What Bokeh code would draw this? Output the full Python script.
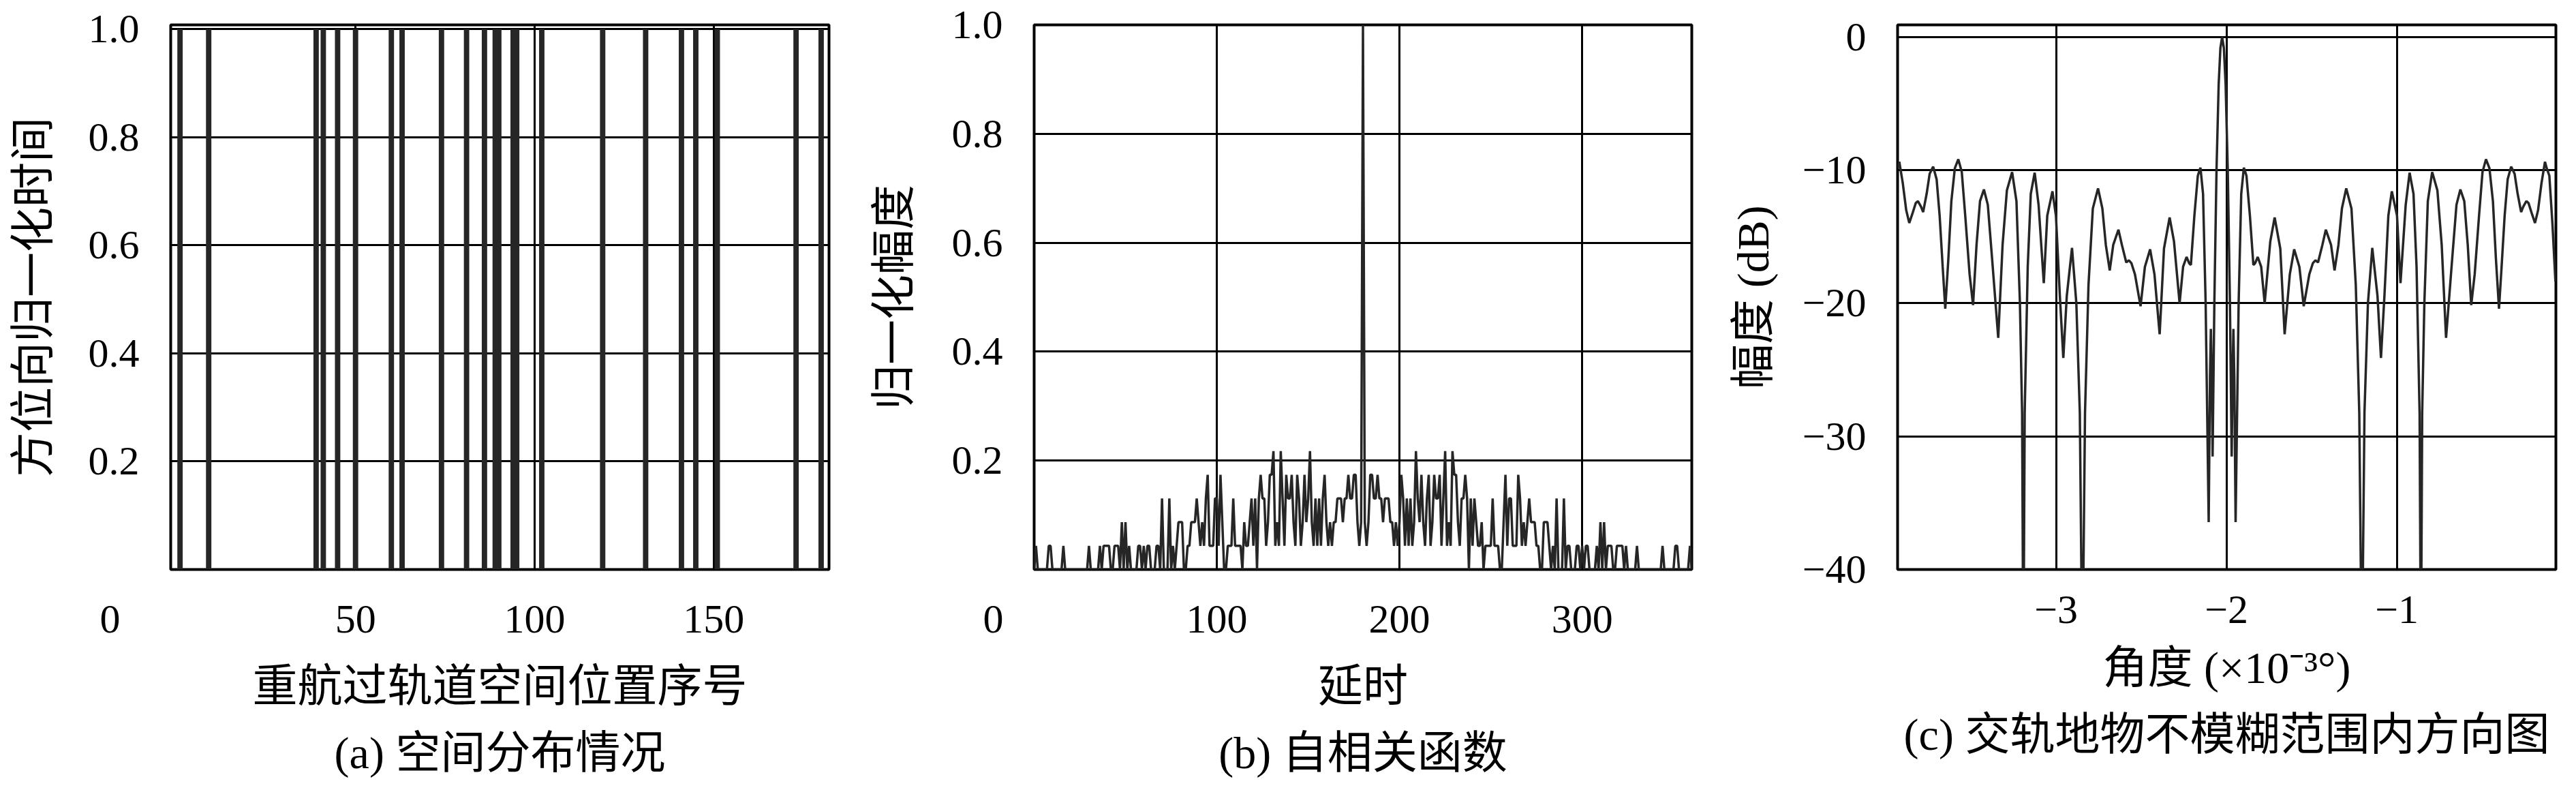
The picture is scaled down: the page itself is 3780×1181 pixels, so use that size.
from bokeh.plotting import figure
from bokeh.layouts import row
from bokeh.models import FixedTicker, Range1d, PrintfTickFormatter
from bokeh.embed import file_html
from bokeh.resources import INLINE

# ---------------- data ----------------
# (a) positions of the repeat-pass tracks (index) and their normalized azimuth time marks
track_index = [1, 9, 39, 41, 45, 50, 60, 63, 74, 81, 86, 89, 90, 94, 95,
               102, 119, 131, 141, 145, 151, 173, 180]
track_mark = [1, 1, 1, 1, 1, 1, 1, 1, 1, 1, 1, 1, 1, 1, 1,
              1, 1, 1, 1, 1, 1, 1, 1]

# (b) autocorrelation (coincidence counts out of 23 tracks), delay 0..360
acf_counts = [
    0, 1, 0, 0, 0, 0, 0, 0, 1, 1,
    0, 0, 0, 0, 0, 0, 1, 0, 0, 0,
    0, 0, 0, 0, 0, 0, 0, 0, 0, 0,
    1, 0, 0, 0, 0, 0, 1, 0, 1, 1,
    1, 1, 0, 0, 1, 1, 1, 0, 2, 0,
    2, 0, 1, 0, 0, 0, 0, 1, 1, 0,
    1, 0, 1, 1, 0, 0, 0, 1, 1, 0,
    3, 0, 0, 0, 3, 0, 1, 0, 1, 2,
    2, 2, 0, 0, 1, 1, 2, 2, 2, 3,
    2, 1, 2, 1, 3, 4, 1, 1, 1, 3,
    3, 1, 4, 2, 0, 0, 1, 1, 1, 3,
    1, 1, 1, 1, 0, 2, 1, 1, 2, 3,
    1, 3, 0, 3, 4, 3, 3, 1, 2, 4,
    4, 5, 1, 2, 1, 5, 3, 1, 4, 3,
    3, 4, 2, 1, 4, 3, 1, 2, 4, 2,
    3, 5, 2, 1, 3, 1, 3, 1, 3, 4,
    2, 1, 2, 1, 2, 2, 3, 3, 3, 2,
    3, 3, 4, 3, 3, 4, 4, 2, 1, 2,
    23,
    2, 1, 2, 4, 4, 3, 3, 4, 3, 3,
    2, 3, 3, 3, 2, 2, 1, 2, 1, 2,
    4, 3, 1, 3, 1, 3, 1, 2, 5, 3,
    2, 4, 2, 1, 3, 4, 1, 2, 4, 3,
    3, 4, 1, 3, 5, 1, 2, 1, 5, 4,
    4, 2, 1, 3, 3, 4, 3, 0, 3, 1,
    3, 2, 1, 1, 2, 0, 1, 1, 1, 1,
    3, 1, 1, 1, 0, 0, 2, 4, 1, 3,
    3, 1, 1, 1, 4, 3, 1, 2, 1, 2,
    3, 2, 2, 2, 1, 1, 0, 0, 2, 2,
    2, 1, 0, 1, 0, 3, 0, 0, 0, 3,
    0, 1, 1, 0, 0, 0, 1, 1, 0, 1,
    0, 1, 1, 0, 0, 0, 0, 1, 0, 2,
    0, 2, 0, 1, 1, 1, 0, 0, 1, 1,
    1, 1, 0, 1, 0, 0, 0, 0, 0, 1,
    0, 0, 0, 0, 0, 0, 0, 0, 0, 0,
    0, 0, 0, 1, 0, 0, 0, 0, 0, 0,
    1, 1, 0, 0, 0, 0, 0, 0, 1, 0,
]
acf_norm = 23
acf_delay = list(range(len(acf_counts)))
acf_value = [c / acf_norm for c in acf_counts]

# (c) cross-track pattern (angle in 1e-3 deg, amplitude in dB)
pat_angle = [
    -3.9312, -3.9210, -3.9006, -3.8803, -3.8624, -3.8446, -3.8242, -3.8115, -3.7936,
    -3.7809, -3.7605, -3.7427, -3.7223, -3.7019, -3.6841, -3.6662, -3.6510, -3.6331,
    -3.6153, -3.5949, -3.5745, -3.5541, -3.5338, -3.5083, -3.4879, -3.4675, -3.4471,
    -3.4242, -3.4013, -3.3758, -3.3401, -3.3146, -3.2892, -3.2586, -3.2331, -3.2127,
    -3.2000, -3.1924, -3.1847, -3.1669, -3.1490, -3.1261, -3.1032, -3.0726, -3.0522,
    -3.0217, -3.0013, -2.9783, -2.9580, -2.9376, -2.9070, -2.8815, -2.8611, -2.8459,
    -2.8306, -2.8102, -2.7847, -2.7541, -2.7287, -2.7083, -2.6854, -2.6650, -2.6344,
    -2.6140, -2.5885, -2.5732, -2.5580, -2.5376, -2.5045, -2.4790, -2.4484, -2.4229,
    -2.3924, -2.3669, -2.3338, -2.3083, -2.2752, -2.2548, -2.2344, -2.2191, -2.2089,
    -2.1885, -2.1682, -2.1529, -2.1376, -2.1223, -2.1045, -2.0968, -2.0917, -2.0866,
    -2.0815, -2.0713, -2.0586, -2.0459, -2.0357, -2.0255,
    -2.0153, -2.0051, -1.9924, -1.9797, -1.9695, -1.9644, -1.9593, -1.9542, -1.9465,
    -1.9287, -1.9134, -1.8981, -1.8828, -1.8625, -1.8421, -1.8319, -1.8166, -1.7962,
    -1.7758, -1.7427, -1.7172, -1.6841, -1.6586, -1.6281, -1.6026, -1.5720, -1.5465,
    -1.5134, -1.4930, -1.4778, -1.4625, -1.4370, -1.4166, -1.3860, -1.3656, -1.3427,
    -1.3223, -1.2969, -1.2663, -1.2408, -1.2204, -1.2051, -1.1899, -1.1695, -1.1440,
    -1.1134, -1.0930, -1.0727, -1.0497, -1.0293, -0.9988, -0.9784, -0.9478, -0.9249,
    -0.9020, -0.8841, -0.8663, -0.8586, -0.8510, -0.8383, -0.8179, -0.7924, -0.7618,
    -0.7364, -0.7109, -0.6752, -0.6497, -0.6268, -0.6039, -0.5835, -0.5631, -0.5427,
    -0.5172, -0.4969, -0.4765, -0.4561, -0.4357, -0.4179, -0.4000, -0.3848, -0.3669,
    -0.3491, -0.3287, -0.3083, -0.2905, -0.2701, -0.2574, -0.2395, -0.2268, -0.2064,
    -0.1886, -0.1707, -0.1504, -0.1300, -0.1198, -0.1045, -0.0866, -0.0688,
]
pat_db = [
    -9.86, -9.37, -10.96, -13.01, -13.97, -13.29, -12.47, -12.33, -12.74,
    -13.15, -11.78, -10.27, -9.73, -10.68, -13.42, -17.26, -20.41, -16.71,
    -12.33, -9.86, -9.18, -10.14, -13.42, -17.81, -20.14, -15.62, -12.33,
    -11.45, -12.60, -16.71, -22.60, -15.62, -11.51, -10.14, -12.33, -20.00,
    -28.22, -48.00, -28.22, -17.26, -11.78, -10.19, -12.60, -18.49, -13.42,
    -11.59, -13.42, -19.45, -24.11, -19.45, -15.84, -20.00, -28.22, -48.00,
    -28.22, -18.63, -12.88, -11.37, -12.88, -15.62, -17.53, -15.62, -14.47,
    -15.62, -16.93, -16.77, -16.99, -17.81, -20.22, -17.26, -15.95, -17.81,
    -22.33, -15.89, -13.56, -15.34, -20.00, -17.26, -16.52, -16.99, -17.12,
    -13.42, -10.41, -9.81, -11.78, -20.00, -36.44, -25.48, -21.92, -25.48,
    -31.51, -20.00, -10.03, -3.56, -0.82, 0.00,
    -0.82, -3.56, -10.03, -20.00, -31.51, -25.48, -21.92, -25.48, -36.44,
    -20.00, -11.78, -9.81, -10.41, -13.42, -17.12, -16.99, -16.52, -17.26,
    -20.00, -15.34, -13.56, -15.89, -22.33, -17.81, -15.95, -17.26, -20.22,
    -17.81, -16.99, -16.77, -16.93, -15.62, -14.47, -15.62, -17.53, -15.62,
    -12.88, -11.37, -12.88, -18.63, -28.22, -48.00, -28.22, -20.00, -15.84,
    -19.45, -24.11, -19.45, -13.42, -11.59, -13.42, -18.49, -12.60, -10.19,
    -11.78, -17.26, -28.22, -48.00, -28.22, -20.00, -12.33, -10.14, -11.51,
    -15.62, -22.60, -16.71, -12.60, -11.45, -12.33, -15.62, -20.14, -17.81,
    -13.42, -10.14, -9.18, -9.86, -12.33, -16.71, -20.41, -17.26, -13.42,
    -10.68, -9.73, -10.27, -11.78, -13.15, -12.74, -12.33, -12.47, -13.29,
    -13.97, -13.01, -10.96, -9.37, -9.86, -10.41, -13.97, -18.36,
]

# tick values / labels
a_xticks = [0, 50, 100, 150]
a_grid_x = [50, 100, 150]
a_yticks = [0.2, 0.4, 0.6, 0.8, 1.0]
b_xticks = [0, 100, 200, 300]
b_grid_x = [100, 200, 300]
b_yticks = [0.2, 0.4, 0.6, 0.8, 1.0]
c_xticks = [-3, -2, -1]
c_yticks = [0, -10, -20, -30, -40]
NBSP = "\u00a0"
a_xlabels = {0: "0" + NBSP * 13}
b_xlabels = {0: "0" + NBSP * 8}
c_xlabels = {-3: "−3", -2: "−2", -1: "−1"}
c_ylabels = {0: "0", -10: "−10", -20: "−20", -30: "−30", -40: "−40"}
captions = ["(a) 空间分布情况", "(b) 自相关函数", "(c) 交轨地物不模糊范围内方向图"]

# ---------------- style ----------------
NUM_FONT = "Liberation Serif"
CJK_FONT = "Liberation Serif, Noto Sans CJK SC"
NUM_SIZE = "60px"
CJK_SIZE = "66px"
INK = "#262626"
H = 1165
TOP = 36
FRAME_H = 799


def make_fig(width, bl, br, xr, yr, xlab, ylab, xt, gx, yt, ystand, cap):
    p = figure(width=width, height=H, x_range=xr, y_range=yr,
               output_backend="svg", toolbar_location=None,
               min_border_left=bl, min_border_right=br,
               min_border_top=TOP, min_border_bottom=H - TOP - FRAME_H,
               title=cap, title_location="below")
    p.outline_line_color = "black"
    p.outline_line_width = 4
    p.background_fill_color = "white"
    p.border_fill_color = "white"
    for ax in (p.xaxis[0], p.yaxis[0]):
        ax.axis_line_color = None
        ax.major_tick_line_color = None
        ax.minor_tick_line_color = None
        ax.major_tick_out = 0
        ax.major_tick_in = 0
        ax.major_label_text_font = NUM_FONT
        ax.major_label_text_font_size = NUM_SIZE
        ax.major_label_text_color = "black"
        ax.axis_label_text_font = CJK_FONT
        ax.axis_label_text_font_size = CJK_SIZE
        ax.axis_label_text_font_style = "normal"
        ax.axis_label_text_color = "black"
    p.xaxis.ticker = FixedTicker(ticks=xt)
    p.yaxis.ticker = FixedTicker(ticks=yt)
    p.xaxis.axis_label = xlab
    p.yaxis.axis_label = ylab
    p.xaxis.major_label_standoff = 39
    p.xaxis.axis_label_standoff = 26
    p.yaxis.major_label_standoff = 46
    p.yaxis.axis_label_standoff = ystand
    p.xgrid.ticker = FixedTicker(ticks=gx)
    p.ygrid.ticker = FixedTicker(ticks=yt)
    for g in (p.xgrid[0], p.ygrid[0]):
        g.grid_line_color = "black"
        g.grid_line_width = 3
    p.title.text_font = CJK_FONT
    p.title.text_font_size = CJK_SIZE
    p.title.text_font_style = "normal"
    p.title.text_color = "black"
    p.title.align = "center"
    p.title.standoff = 40
    return p


# (a)
pa = make_fig(1252, 250, 36, Range1d(-1.6, 182.2), Range1d(0, 1.008),
              "重航过轨道空间位置序号", "方位向归一化时间",
              a_xticks, a_grid_x, a_yticks, 42, captions[0])
pa.xaxis.major_label_overrides = a_xlabels
pa.yaxis.formatter = PrintfTickFormatter(format="%.1f")
pa.vbar(x=track_index, top=track_mark, bottom=0, width=1.5,
        fill_color=INK, line_color=None)

# (b)
pb = make_fig(1270, 265, 40, Range1d(0, 360), Range1d(0, 1.0),
              "延时", "归一化幅度",
              b_xticks, b_grid_x, b_yticks, 46, captions[1])
pb.xaxis.major_label_overrides = b_xlabels
pb.yaxis.formatter = PrintfTickFormatter(format="%.1f")
pb.line(acf_delay, acf_value, line_width=3.5, line_color=INK)

# (c)
pc = make_fig(1242, 262, 14, Range1d(-3.931, -0.066), Range1d(-40, 0.916),
              "角度 (×10⁻³°)", "幅度 (dB)",
              c_xticks, c_xticks, c_yticks, 33, captions[2])
pc.xaxis.major_label_overrides = c_xlabels
pc.yaxis.major_label_overrides = c_ylabels
pc.line(pat_angle, pat_db, line_width=3.5, line_color=INK)

layout = row(pa, pb, pc)
open("out.html", "w").write(file_html(layout, INLINE, "chart"))
